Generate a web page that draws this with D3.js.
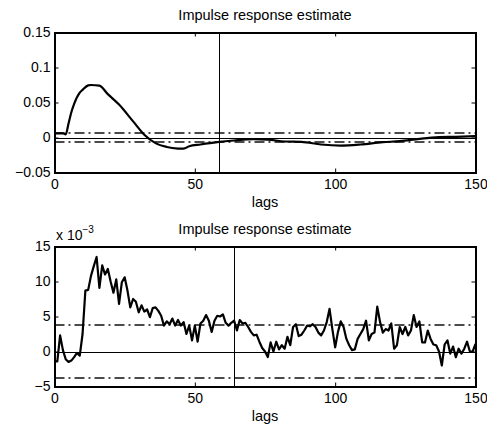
<!DOCTYPE html>
<html>
<head>
<meta charset="utf-8">
<script src="https://cdn.jsdelivr.net/npm/d3@7"></script>
<style>
  html, body { margin: 0; padding: 0; background: #fff; }
  svg { display: block; }
  text { font-family: "Liberation Sans", Arial, Helvetica, sans-serif; fill: #000; }
</style>
</head>
<body>
<svg id="chart" width="487" height="429"></svg>
<script>
// ---------- data ----------
const titleText = "Impulse response estimate";
const xLabel = "lags";
const xTicks = [0, 50, 100, 150];

// top panel: impulse response estimate (smooth)
const topLags = [0, 3, 4, 5, 6, 7, 9, 10, 12, 13, 16, 19, 23, 28, 32, 36, 40, 44, 46, 48, 52, 58, 64, 71, 76, 82, 88, 95, 102, 109, 117, 123, 130, 137, 143, 150];
const topValues = [0.006, 0.006, 0.0045, 0.02, 0.036, 0.048, 0.064, 0.068, 0.0745, 0.075, 0.074, 0.062, 0.047, 0.023, 0.004, -0.008, -0.0135, -0.0158, -0.016, -0.0125, -0.0100, -0.0067, -0.0043, -0.0024, -0.0029, -0.0057, -0.0062, -0.0100, -0.0115, -0.0100, -0.0067, -0.0053, -0.0019, 0.0005, 0.001, 0.002];
const topYTicks = [-0.05, 0, 0.05, 0.1, 0.15];
const topConf = 0.0065;
const topMarker = 58.5;

// bottom panel: impulse response estimate (x 10^-3), lags 0..150
const bottomValues = [
  -1.4, -1.4, 2.3, 0.2, -1.1, -1.5, -1.3, -0.8, -0.2, -0.6,
  2.5, 8.7, 8.8, 10.8, 12.2, 13.5, 9.1, 12.3, 11.0, 11.8,
  10.0, 8.4, 10.3, 6.8, 9.9, 10.6, 8.7, 6.3, 7.5, 7.1,
  5.6, 6.6, 5.7, 6.0, 4.9, 6.2, 6.3, 5.8, 5.1, 3.7,
  4.3, 3.9, 4.7, 3.7, 4.5, 3.7, 4.2, 2.5, 3.7, 1.6,
  3.7, 1.4, 4.0, 4.4, 5.2, 4.4, 2.8, 4.4, 5.1, 5.0,
  5.3, 4.1, 3.7, 4.1, 4.4, 3.0, 4.5, 4.0, 4.1, 3.5,
  2.8, 2.3, 2.4, 1.4, 0.5, 0.0, -0.8, 1.3, 0.0, 1.4,
  0.3, 0.9, 0.4, 2.1, 0.9, 3.5, 3.9, 2.2, 2.4, 3.0,
  3.7, 3.6, 3.9, 3.5, 2.7, 2.3, 3.0, 4.2, 6.1, 3.2,
  0.6, 2.8, 4.3, 3.5, 1.8, 0.9, 0.2, 0.3, 1.8, 2.5,
  3.2, 4.4, 1.6, 2.5, 2.7, 6.4, 4.2, 2.7, 3.2, 3.0,
  4.0, 0.4, 0.9, 3.5, 2.5, 3.5, 2.3, 3.0, 5.2, 3.5,
  4.3, 1.3, 1.3, 3.0, 1.8, 1.0, 0.9, 0.0, -2.0, 1.0,
  1.6, -0.3, 0.7, -0.8, 0.4, -0.3, 0.4, 1.4, 0.0, 0.0,
  1.1
];
const bottomLags = bottomValues.map((d, i) => i);
const bottomYTicks = [-5, 0, 5, 10, 15];
const bottomConf = 3.8;
const bottomMarker = 64;

// ---------- drawing ----------
const svg = d3.select("#chart");
const left = 54.5, right = 475.5;

function panel(cfg) {
  const x = d3.scaleLinear().domain([0, 150]).range([left, right]);
  const y = d3.scaleLinear().domain(cfg.yDomain).range([cfg.bottom, cfg.top]);
  const g = svg.append("g");

  // zero line
  g.append("line")
    .attr("x1", x(0)).attr("x2", x(150))
    .attr("y1", Math.round(y(0)) + 0.5).attr("y2", Math.round(y(0)) + 0.5)
    .attr("stroke", "#000").attr("stroke-width", 1);

  // confidence dash-dot lines
  [cfg.conf, -cfg.conf].forEach(c => {
    g.append("line")
      .attr("x1", x(0)).attr("x2", x(150))
      .attr("y1", y(c)).attr("y2", y(c))
      .attr("stroke", "#111").attr("stroke-width", 1.5)
      .attr("stroke-dasharray", "10,4,2,4");
  });

  // vertical marker
  g.append("line")
    .attr("x1", Math.round(x(cfg.marker)) + 0.5).attr("x2", Math.round(x(cfg.marker)) + 0.5)
    .attr("y1", cfg.top).attr("y2", cfg.bottom)
    .attr("stroke", "#000").attr("stroke-width", 1);

  // main curve
  const line = d3.line()
    .x((d, i) => x(cfg.lags[i]))
    .y(d => y(d))
    .curve(cfg.curve);
  g.append("path")
    .datum(cfg.values)
    .attr("d", line)
    .attr("fill", "none")
    .attr("stroke", "#000")
    .attr("stroke-width", 2.2)
    .attr("stroke-linejoin", "round");

  // axes (ticks inward, box)
  const tl = 4;
  const axB = d3.axisBottom(x).tickValues(xTicks).tickSize(-tl).tickPadding(7).tickFormat(d3.format("d"));
  const axT = d3.axisTop(x).tickValues(xTicks).tickSize(-tl).tickFormat("");
  const axL = d3.axisLeft(y).tickValues(cfg.yTicks).tickSize(-tl).tickPadding(4).tickFormat(cfg.fmt);
  const axR = d3.axisRight(y).tickValues(cfg.yTicks).tickSize(-tl).tickFormat("");

  const gb = g.append("g").attr("transform", `translate(0,${cfg.bottom})`).call(axB);
  const gt = g.append("g").attr("transform", `translate(0,${cfg.top})`).call(axT);
  const gl = g.append("g").attr("transform", `translate(${left},0)`).call(axL);
  const gr = g.append("g").attr("transform", `translate(${right},0)`).call(axR);
  [gb, gt, gl, gr].forEach(a => {
    a.select(".domain").attr("stroke", "#000").attr("stroke-width", 1.2);
    a.selectAll(".tick line").attr("stroke", "#000");
    a.selectAll("text").attr("font-size", 14).attr("font-family", "Liberation Sans, Arial, sans-serif").attr("fill", "#000");
  });
  svg.selectAll(".domain").attr("shape-rendering", "crispEdges");

  // title and x label
  svg.append("text")
    .attr("x", (left + right) / 2).attr("y", cfg.top - 13)
    .attr("text-anchor", "middle").attr("font-size", 14.5)
    .text(titleText);
  svg.append("text")
    .attr("x", (left + right) / 2).attr("y", cfg.bottom + 34)
    .attr("text-anchor", "middle").attr("font-size", 14.5)
    .text(xLabel);

  return { x, y };
}

panel({
  top: 32.5, bottom: 172.5, yDomain: [-0.05, 0.15], yTicks: topYTicks,
  fmt: d => d === 0 ? "0" : d3.format("")(d),
  lags: topLags, values: topValues, conf: topConf, marker: topMarker,
  curve: d3.curveMonotoneX
});

panel({
  top: 246.5, bottom: 386.5, yDomain: [-5, 15], yTicks: bottomYTicks,
  fmt: d3.format("d"),
  lags: bottomLags, values: bottomValues, conf: bottomConf, marker: bottomMarker,
  curve: d3.curveLinear
});

// exponent label
const ex = svg.append("text").attr("x", 56).attr("y", 240).attr("font-size", 14);
ex.append("tspan").text("x 10");
ex.append("tspan").attr("dy", -7).attr("font-size", 10).text("−3");
</script>
</body>
</html>
